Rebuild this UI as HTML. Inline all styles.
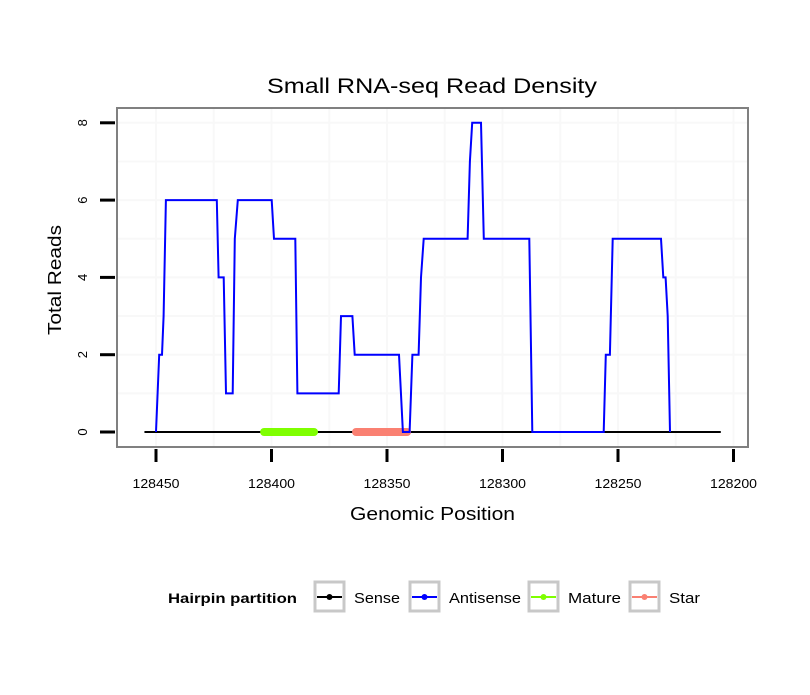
<!DOCTYPE html>
<html><head><meta charset="utf-8"><style>
body{margin:0;background:#fff;font-family:"Liberation Sans",sans-serif}
</style></head><body>
<svg width="810" height="690" xmlns="http://www.w3.org/2000/svg" font-family="Liberation Sans, sans-serif">
<rect width="810" height="690" fill="#fff"/>
<text x="267" y="93" font-size="21" textLength="330" lengthAdjust="spacingAndGlyphs">Small RNA-seq Read Density</text>
<g id="grid"></g>
<g id="marks"></g>
<rect x="117" y="108" width="631" height="339" fill="none" stroke="#808080" stroke-width="2"/>
<g id="axes"></g>
<text x="350" y="520" font-size="18" textLength="165" lengthAdjust="spacingAndGlyphs">Genomic Position</text>
<text transform="translate(61,335) rotate(-90)" font-size="18" textLength="110" lengthAdjust="spacingAndGlyphs">Total Reads</text>
<g>
<text x="168" y="603" font-size="14" font-weight="bold" textLength="129" lengthAdjust="spacingAndGlyphs">Hairpin partition</text>
<g id="legend"></g>
</g>
</svg>
<script>
const NS="http://www.w3.org/2000/svg";
const antisensePos=[128450,128448.6,128447.4,128446.7,128445.7,128423.7,128422.9,128420.7,128419.7,128416.8,128415.9,128414.6,128399.9,128398.9,128389.7,128388.8,128370.9,128369.9,128365,128364,128344.8,128343.1,128340.2,128339,128336.3,128335.3,128334.1,128315.1,128314.1,128313.1,128309.3,128308.1,128288.4,128287.1,128256.2,128255.3,128253.5,128252.3,128231.4,128230.4,128229.4,128228.5,128227.5];
const antisenseVal=[0,2,2,3,6,6,4,4,1,1,5,6,6,5,5,1,1,3,3,2,2,0,0,2,2,4,5,5,7,8,8,5,5,0,0,2,2,5,5,4,4,3,0];
const senseRange=[128455,128205.5];
const matureRange=[128403.2,128381.6];
const starRange=[128363.4,128341.3];
const xTicks=[128450,128400,128350,128300,128250,128200];
const yTicks=[0,2,4,6,8];
const legendLabels=["Sense","Antisense","Mature","Star"];
const legendColors=["#000000","#0000ff","#7fff00","#fa8072"];

const X=p=>156+(128450-p)*2.31;
const Y=v=>432-v*38.65;
function mk(t,a,parent){const e=document.createElementNS(NS,t);for(const k in a)e.setAttribute(k,a[k]);parent.appendChild(e);return e;}
const grid=document.getElementById('grid'),marks=document.getElementById('marks'),axes=document.getElementById('axes'),leg=document.getElementById('legend');
for(let v=1;v<=8;v++){const l=mk('line',{x1:118,x2:747,y1:Y(v),y2:Y(v),stroke:'#f8f8f8','stroke-width':2},grid);

}
for(let p=128475;p>=128200;p-=25){const x=X(p);if(x<118||x>747)continue;const l=mk('line',{x1:x,x2:x,y1:109,y2:446,stroke:'#f8f8f8','stroke-width':2},grid);

}
const s=mk('line',{x1:X(senseRange[0]),x2:X(senseRange[1]),y1:Y(0),y2:Y(0),stroke:'#000','stroke-width':2},marks);


const m=mk('line',{x1:X(matureRange[0]),x2:X(matureRange[1]),y1:Y(0),y2:Y(0),stroke:'#7fff00','stroke-width':8,'stroke-linecap':'round'},marks);


const st=mk('line',{x1:X(starRange[0]),x2:X(starRange[1]),y1:Y(0),y2:Y(0),stroke:'#fa8072','stroke-width':8,'stroke-linecap':'round'},marks);


const pts=antisensePos.map((p,i)=>X(p).toFixed(1)+','+Y(antisenseVal[i]).toFixed(1)).join(' ');
const a=mk('polyline',{points:pts,fill:'none',stroke:'#0000ff','stroke-width':2},marks);


xTicks.forEach(p=>{const x=X(p);
const t=mk('line',{x1:x,x2:x,y1:449,y2:462,stroke:'#000','stroke-width':3},axes);


const tx=mk('text',{x:x,y:488,'font-size':13,'text-anchor':'middle',textLength:47,lengthAdjust:'spacingAndGlyphs'},axes);tx.textContent=p;

});
yTicks.forEach(v=>{const y=Y(v);
const t=mk('line',{x1:100,x2:115,y1:y,y2:y,stroke:'#000','stroke-width':3},axes);


const tx=mk('text',{transform:`translate(87,${y}) rotate(-90)`,'font-size':13,'text-anchor':'middle'},axes);tx.textContent=v;

});
const lx=[313,408,527,628];
const lw=[46,72,53,31];
legendLabels.forEach((lab,i)=>{const x=lx[i];
const g=mk('g',{},leg);


mk('rect',{x:x+2,y:582,width:29,height:29,fill:'#fff',stroke:'#c8c8c8','stroke-width':3},g);
mk('line',{x1:x+4,x2:x+29,y1:597,y2:597,stroke:legendColors[i],'stroke-width':2},g);
mk('circle',{cx:x+16.5,cy:597,r:3,fill:legendColors[i]},g);
const t=mk('text',{x:x+41,y:603,'font-size':15,textLength:lw[i],lengthAdjust:'spacingAndGlyphs'},g);t.textContent=lab;});
</script>
</body></html>
